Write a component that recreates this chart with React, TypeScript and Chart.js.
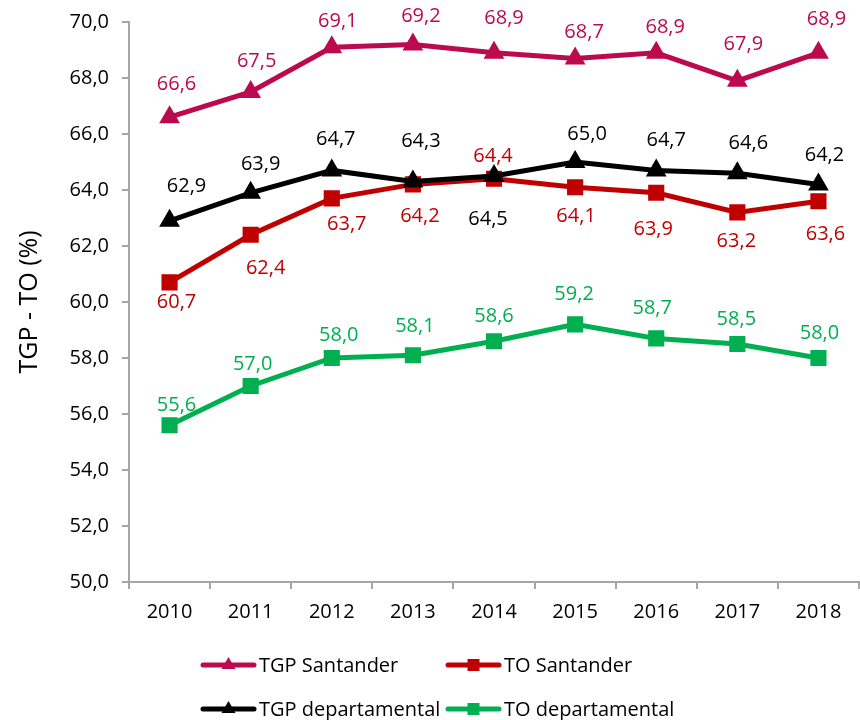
import React, { useEffect, useRef } from 'react';
import { Chart, registerables } from 'chart.js';

Chart.register(...registerables);

// ---- data ----
const years = ['2010', '2011', '2012', '2013', '2014', '2015', '2016', '2017', '2018'];
const tgpSantander = [66.6, 67.5, 69.1, 69.2, 68.9, 68.7, 68.9, 67.9, 68.9];
const toSantander = [60.7, 62.4, 63.7, 64.2, 64.4, 64.1, 63.9, 63.2, 63.6];
const tgpDepartamental = [62.9, 63.9, 64.7, 64.3, 64.5, 65.0, 64.7, 64.6, 64.2];
const toDepartamental = [55.6, 57.0, 58.0, 58.1, 58.6, 59.2, 58.7, 58.5, 58.0];
const seriesNames = ['TGP Santander', 'TO Santander', 'TGP departamental', 'TO departamental'];
const yMin = 50;
const yMax = 70;
const yStep = 2;
const yTitle = 'TGP - TO (%)';

// ---- styles (kept apart from the data) ----
const colors = ['#BC0A4E', '#C00000', '#000000', '#00B050'];
const markers = ['triangle', 'rect', 'triangle', 'rect'];
// data-label offsets relative to each point (dx, dy in px)
const labelDx = [
  [7, 6, 6, 8, 10, 9, 9, 6, 8],
  [7, 15, 15, 7, -1, 1, -3, -1, 7],
  [17, 10, 4, 8, -6, 12, 10, 11, 6],
  [7, 2, 7, 2, 0, -1, -4, -1, 1],
];
const labelDy = [
  [-34, -32, -27, -29, -36, -27, -27, -38, -35],
  [19, 32, 25, 31, -24, 28, 35, 28, 32],
  [-36, -30, -32, -41, 42, -29, -31, -31, -30],
  [-21, -23, -24, -30, -26, -31, -31, -26, -26],
];

const FONT = '"Open Sans", "Noto Sans", sans-serif';
const fmt = (v: number) => v.toFixed(1).replace('.', ',');

const dataLabelPlugin = {
  id: 'dataLabels',
  afterDatasetsDraw(chart: any) {
    const ctx = chart.ctx;
    ctx.save();
    ctx.font = `20px ${FONT}`;
    ctx.textAlign = 'center';
    ctx.textBaseline = 'middle';
    chart.data.datasets.forEach((ds: any, i: number) => {
      const meta = chart.getDatasetMeta(i);
      ctx.fillStyle = colors[i];
      meta.data.forEach((pt: any, j: number) => {
        ctx.fillText(fmt(ds.data[j]), pt.x + labelDx[i][j], pt.y + labelDy[i][j] + 1);
      });
    });
    ctx.restore();
  },
};

const legendPlugin = {
  id: 'gridLegend',
  afterDraw(chart: any) {
    const ctx = chart.ctx;
    const cols = [200, 445];
    const rows = [665, 709];
    ctx.save();
    chart.data.datasets.forEach((ds: any, i: number) => {
      const x = cols[i % 2];
      const y = rows[Math.floor(i / 2)];
      ctx.strokeStyle = colors[i];
      ctx.fillStyle = colors[i];
      ctx.lineWidth = 5;
      ctx.lineCap = 'round';
      ctx.beginPath();
      ctx.moveTo(x + 3, y);
      ctx.lineTo(x + 54, y);
      ctx.stroke();
      const cx = x + 28.5;
      ctx.beginPath();
      if (markers[i] === 'triangle') {
        ctx.moveTo(cx, y - 8);
        ctx.lineTo(cx + 7, y + 4);
        ctx.lineTo(cx - 7, y + 4);
        ctx.closePath();
      } else {
        ctx.rect(cx - 6, y - 6, 12, 12);
      }
      ctx.fill();
      ctx.fillStyle = '#000';
      ctx.font = `20px ${FONT}`;
      ctx.textAlign = 'left';
      ctx.textBaseline = 'middle';
      ctx.fillText(ds.label, x + 59, y + 1);
    });
    ctx.restore();
  },
};

export default function App() {
  const canvasRef = useRef<HTMLCanvasElement | null>(null);

  useEffect(() => {
    if (!canvasRef.current) return;
    Chart.defaults.font.family = FONT;
    const series = [tgpSantander, toSantander, tgpDepartamental, toDepartamental];
    const orders = [3, 2, 1, 0];
    const chart = new Chart(canvasRef.current, {
      type: 'line',
      data: {
        labels: years,
        datasets: series.map((d, i) => ({
          label: seriesNames[i],
          data: d,
          borderColor: colors[i],
          backgroundColor: colors[i],
          pointBackgroundColor: colors[i],
          pointBorderColor: colors[i],
          pointStyle: markers[i] as any,
          pointRadius: 10,
          pointHoverRadius: 10,
          pointBorderWidth: 2,
          borderWidth: 5,
          tension: 0,
          fill: false,
          clip: false as any,
          order: orders[i],
        })),
      },
      options: {
        responsive: false,
        animation: false,
        events: [],
        layout: { autoPadding: false, padding: { top: 22, right: 1, left: 0, bottom: 0 } },
        plugins: {
          legend: { display: false },
          tooltip: { enabled: false },
        },
        scales: {
          x: {
            type: 'category',
            offset: true,
            grid: {
              offset: true,
              drawOnChartArea: false,
              drawTicks: true,
              tickLength: 7,
              color: '#A6A6A6',
              lineWidth: 2,
            },
            border: { color: '#A6A6A6', width: 2 },
            ticks: { color: '#000', font: { size: 20, family: FONT }, padding: 11 },
            afterFit: (scale: any) => {
              scale.height = 138;
              scale.paddingLeft = 0;
              scale.paddingRight = 0;
            },
          },
          y: {
            min: yMin,
            max: yMax,
            grid: {
              drawOnChartArea: false,
              drawTicks: true,
              tickLength: 7,
              color: '#A6A6A6',
              lineWidth: 2,
            },
            border: { color: '#A6A6A6', width: 2 },
            ticks: {
              stepSize: yStep,
              color: '#000',
              font: { size: 20, family: FONT },
              padding: 13,
              callback: (v: any) => fmt(Number(v)),
            },
            title: {
              display: true,
              text: yTitle,
              color: '#000',
              font: { size: 25, family: FONT },
              padding: { top: 15, bottom: 0 },
            },
            afterFit: (scale: any) => {
              scale.width = 129;
              scale.paddingTop = 0;
              scale.paddingBottom = 0;
            },
          },
        },
      },
      plugins: [dataLabelPlugin, legendPlugin],
    });
    return () => chart.destroy();
  }, []);

  return (
    <div style={{ position: 'absolute', left: 0, top: 0, width: 860, height: 720, background: '#fff' }}>
      <canvas ref={canvasRef} width={860} height={720} />
    </div>
  );
}
